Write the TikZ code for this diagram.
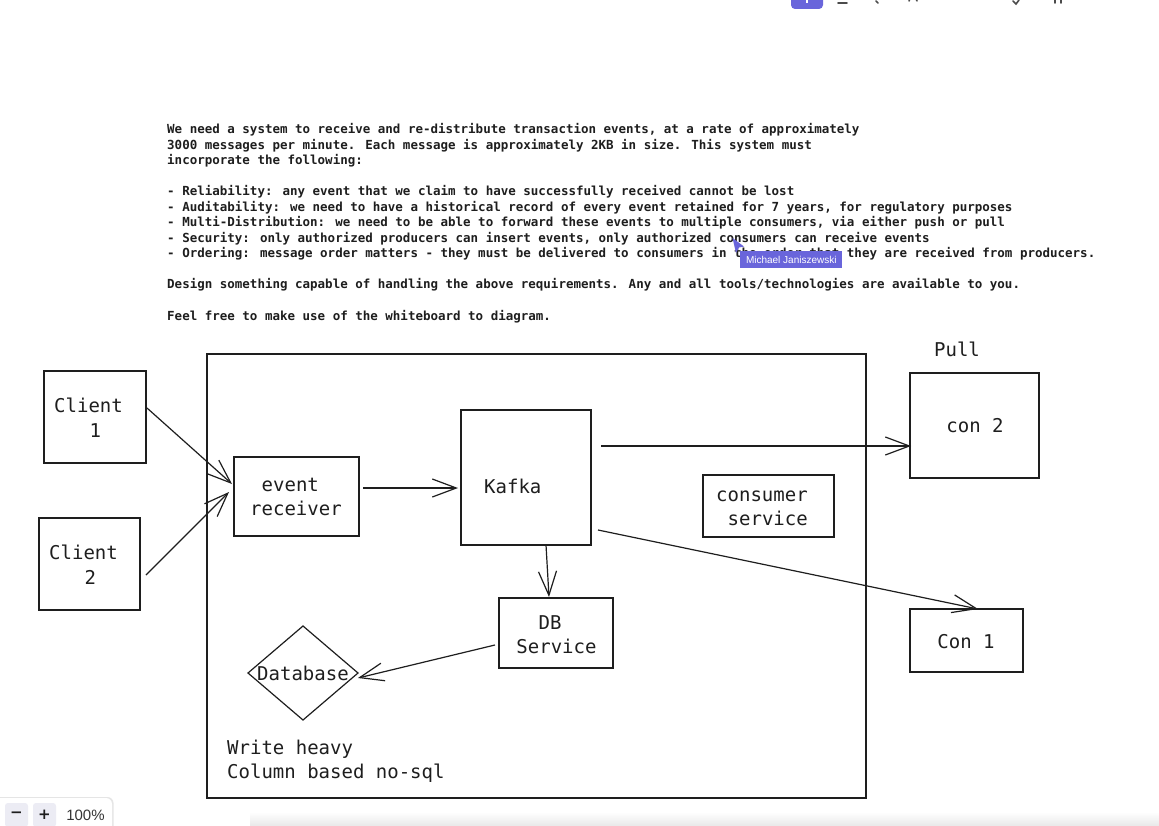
\documentclass[tikz,border=0pt]{standalone}
\usepackage{fontspec}
\setmainfont{DejaVu Sans}
\newfontfamily\codefont{DejaVu Sans Mono}
\newfontfamily\uifont{Liberation Sans}
\usetikzlibrary{arrows.meta,shapes.geometric,calc}
\definecolor{ink}{HTML}{1E1E1E}
\definecolor{exviolet}{HTML}{6965DB}
\definecolor{btngray}{HTML}{ECECF4}
\begin{document}
\begin{tikzpicture}[x=1pt,y=-1pt,
  box/.style={draw=ink, line width=1.2pt, rectangle, inner sep=0pt, outer sep=0pt},
  lbl/.style={font=\codefont\fontsize{19}{23}\selectfont, text=ink, inner sep=0pt},
  req/.style={font=\codefont\bfseries\fontsize{12.5}{15}\selectfont, text=ink, inner sep=0pt, anchor=base west},
  conn/.style={draw=ink, line width=1.2pt, -{Straight Barb[length=24pt,width=18pt]}},
  icon/.style={draw=ink!80, line width=1.6pt, line cap=round},
]
\useasboundingbox[fill=white] (0,0) rectangle (1159,826);

% toolbar remnants at the top
\fill[exviolet, rounded corners=4pt] (791,-8) rectangle (823,9);
\draw[white, line width=1.4pt] (807,-1) -- (807,3);
\draw[icon] (838,3) -- (847,3);
\draw[icon] (876,1) -- (878,3);
\draw[icon] (909,1) arc (180:360:4);
\draw[icon] (1013,1) -- (1016,4) -- (1019,0);
\draw[icon] (1055,0) -- (1055,3);
\draw[icon] (1061,0) -- (1061,3);

% requirements text
\node[req] (t1) at (167,134) {We need a system to receive and re-distribute transaction events, at a rate of approximately};
\node[req] (t2) at (167,149.5) {3000 messages per minute. Each message is approximately 2KB in size. This system must};
\node[req] (t3) at (167,165) {incorporate the following:};
\node[req] (t4) at (167,196) {- Reliability: any event that we claim to have successfully received cannot be lost};
\node[req] (t5) at (167,211.5) {- Auditability: we need to have a historical record of every event retained for 7 years, for regulatory purposes};
\node[req] (t6) at (167,227) {- Multi-Distribution: we need to be able to forward these events to multiple consumers, via either push or pull};
\node[req] (t7) at (167,242.5) {- Security: only authorized producers can insert events, only authorized consumers can receive events};
\node[req] (t8) at (167,258) {- Ordering: message order matters - they must be delivered to consumers in the order that they are received from producers.};
\node[req] (t9) at (167,289) {Design something capable of handling the above requirements. Any and all tools/technologies are available to you.};
\node[req] (t10) at (167,320) {Feel free to make use of the whiteboard to diagram.};

% collaborator cursor
\fill[exviolet] (732.5,238) -- (744,246.5) -- (739,247.5) -- (736,253) -- cycle;
\node[fill=exviolet, text=white, font=\uifont\fontsize{10}{12}\selectfont, minimum width=102pt, minimum height=17pt, inner sep=0pt] (cur) at (791.3,260) {Michael Janiszewski};

% container
\node[box, minimum width=659pt, minimum height=444pt] (sys) at (536.5,576) {};

% boxes
\node[box, minimum width=102pt, minimum height=92pt] (c1) at (95,417) {};
\node[box, minimum width=101pt, minimum height=92pt] (c2) at (89.5,564) {};
\node[box, minimum width=125pt, minimum height=79pt] (er) at (296.5,496.5) {};
\node[box, minimum width=130pt, minimum height=135pt] (kafka) at (526,477.5) {};
\node[box, minimum width=131pt, minimum height=62pt] (cs) at (768.5,506) {};
\node[box, minimum width=114pt, minimum height=70pt] (dbs) at (556,633) {};
\node[draw=ink, line width=1.2pt, diamond, inner sep=0pt, outer sep=0pt, minimum width=110pt, minimum height=94pt] (db) at (303,673) {};
\node[box, minimum width=129pt, minimum height=105pt] (con2) at (974.5,425.5) {};
\node[box, minimum width=113pt, minimum height=63pt] (con1) at (966.5,640.5) {};

% labels
\node[lbl, anchor=base west] (c1a) at (54,412) {Client};
\node[lbl, anchor=base west] (c1b) at (89.3,437) {1};
\node[lbl, anchor=base west] (c2a) at (49,559) {Client};
\node[lbl, anchor=base west] (c2b) at (84.3,584) {2};
\node[lbl, anchor=base west] (era) at (261.5,491) {event};
\node[lbl, anchor=base west] (erb) at (250,515) {receiver};
\node[lbl, anchor=base west] (ka) at (484,493) {Kafka};
\node[lbl, anchor=base west] (csa) at (716,501) {consumer};
\node[lbl, anchor=base west] (csb) at (727.5,525) {service};
\node[lbl, anchor=base] (dba) at (550,629) {DB};
\node[lbl, anchor=base] (dbb) at (556.5,653) {Service};
\node[lbl, anchor=base] (dbl) at (303,680) {Database};
\node[lbl, anchor=base] (c2l) at (975,432) {con 2};
\node[lbl, anchor=base] (c1l) at (966,648) {Con 1};
\node[lbl, anchor=base] (pull) at (957,356) {Pull};
\node[lbl, anchor=base west] (w1) at (227,754) {Write heavy};
\node[lbl, anchor=base west] (w2) at (227,778) {Column based no-sql};

% connectors
\draw[conn] ([xshift=1pt,yshift=9pt]c1.east) -- ([xshift=-2pt,yshift=12.5pt]er.west);
\draw[conn] ([xshift=6pt,yshift=-11pt]c2.east) -- ([xshift=-5pt,yshift=4.5pt]er.west);
\draw[conn] ([xshift=4pt,yshift=8.5pt]er.east) -- ([xshift=-3pt,yshift=-10.5pt]kafka.west);
\draw[conn] ([xshift=10pt,yshift=31.5pt]kafka.east) -- ([xshift=1pt,yshift=-20.5pt]con2.west);
\draw[conn] ([xshift=7pt,yshift=-52.5pt]kafka.east) -- ([xshift=11.5pt]con1.north);
\draw[conn] ([xshift=20pt]kafka.south) -- ([xshift=-7pt,yshift=1pt]dbs.north);
\draw[conn] ([xshift=-4pt,yshift=-12pt]dbs.west) -- ([yshift=-5pt]db.east);

% bottom UI
\shade[top color=white, bottom color=gray!18] (250,812) rectangle (1159,826);
\fill[gray!20, rounded corners=6pt] (-5,797) rectangle (113.5,832);
\fill[white, rounded corners=6pt] (-5,798) rectangle (112,832);
\fill[btngray, rounded corners=3pt] (5,803) rectangle (28,827);
\fill[btngray, rounded corners=3pt] (33,803) rectangle (56,827);
\node[font=\bfseries\fontsize{15}{15}\selectfont, text=ink, inner sep=0pt] (zm) at (16.5,815) {−};
\node[font=\bfseries\fontsize{15}{15}\selectfont, text=ink, inner sep=0pt] (zp) at (44.5,815) {+};
\node[font=\uifont\fontsize{15}{15}\selectfont, text=ink!90, inner sep=0pt] (zl) at (85.5,815.5) {100\%};
\end{tikzpicture}
\end{document}
